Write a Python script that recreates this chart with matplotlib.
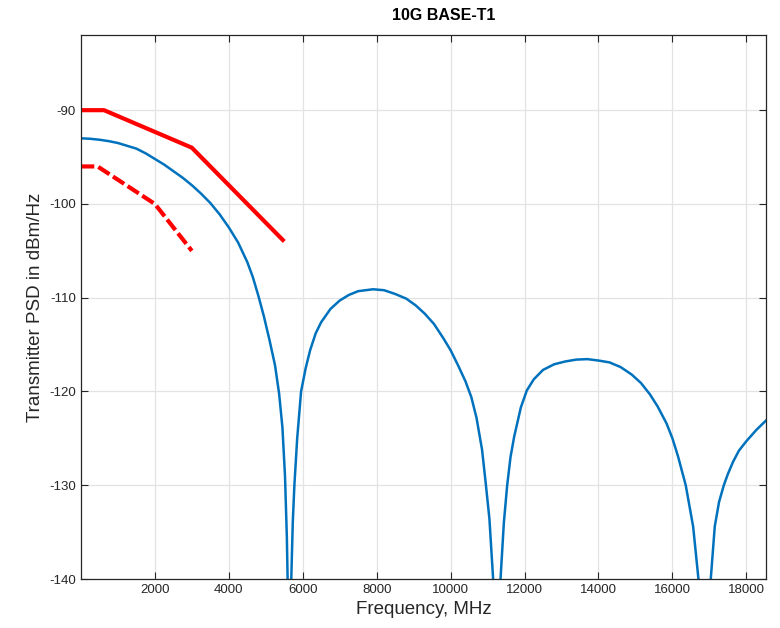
import numpy as np
import matplotlib
matplotlib.use("Agg")
import matplotlib.pyplot as plt

plt.rcParams['font.family'] = ['Liberation Sans', 'DejaVu Sans']
plt.rcParams['axes.unicode_minus'] = False

# upper PSD mask (solid red)
mask_hi_f = [1, 625, 3000, 5500]
mask_hi_db = [-90, -90, -94, -104]

# lower PSD mask (dashed red)
mask_lo_f = [1, 450, 2000, 3000]
mask_lo_db = [-96, -96, -100, -105]

# transmitter PSD (blue); nulls go below the axis
psd_f = [1, 250, 500, 750, 1000, 1250, 1500, 1750, 2000, 2250, 2500,
         2750, 3000, 3250, 3500, 3750, 4000, 4250, 4500, 4650, 4800,
         4950, 5100, 5250, 5360, 5450, 5520, 5570, 5600, 5625,
         5690, 5730, 5774, 5850, 5955, 6080, 6200, 6350, 6500, 6750,
         7000, 7250, 7500, 7900, 8200, 8500, 8800, 9050, 9300, 9550,
         9800, 10000, 10200, 10400, 10560, 10700, 10850, 10950, 11050,
         11150, 11250,
         11350, 11440, 11530, 11620, 11720, 11900, 12060, 12250, 12500,
         12800, 13100, 13400, 13700, 14000, 14300, 14600, 14900, 15150,
         15390, 15600, 15840, 16000, 16150, 16360, 16560, 16704, 16870,
         17037, 17145, 17260, 17390, 17500, 17640, 17800, 18000, 18270,
         18530]
psd_db = [-93.0, -93.05, -93.15, -93.3, -93.5, -93.8, -94.1, -94.6, -95.2,
          -95.8, -96.5, -97.2, -98.0, -98.9, -99.9, -101.1, -102.5, -104.1,
          -106.2, -107.8, -109.8, -112.0, -114.5, -117.2, -120.2, -123.8,
          -129.0, -135.5, -142.0, -160.0,
          -140.0, -134.0, -130.0, -125.0, -120.0, -117.5, -115.6, -113.8,
          -112.6, -111.2, -110.3, -109.7, -109.3, -109.1, -109.2, -109.6,
          -110.1, -110.8, -111.7, -112.8, -114.3, -115.6, -117.2, -118.9,
          -120.6, -122.8, -126.2, -129.8, -133.6, -140.0, -160.0,
          -140.0, -134.0, -130.0, -127.0, -124.8, -121.7, -119.9, -118.7,
          -117.7, -117.1, -116.8, -116.6, -116.55, -116.7, -116.9, -117.4,
          -118.2, -119.1, -120.3, -121.6, -123.4, -125.0, -126.9, -130.0,
          -134.4, -140.0, -160.0,
          -140.0, -134.4, -131.8, -130.0, -128.8, -127.5, -126.3, -125.3,
          -124.1, -123.1]

xticks = [2000, 4000, 6000, 8000, 10000, 12000, 14000, 16000, 18000]
yticks = [-140, -130, -120, -110, -100, -90]

fig = plt.figure(figsize=(7.8, 6.28), dpi=100)
ax = fig.add_axes([0.1038, 0.078, 0.8782, 0.866])

ax.plot(mask_hi_f, mask_hi_db, color='#FF0000', lw=3, solid_capstyle='butt')
ax.plot(mask_lo_f, mask_lo_db, color='#FF0000', lw=3,
        linestyle=(0, (3.2, 1.0)), dash_capstyle='butt')
ax.plot(psd_f, psd_db, color='#0072BD', lw=1.8)

ax.set_xlim(1, 18530)
ax.set_ylim(-140, -82)
ax.set_xticks(xticks)
ax.set_yticks(yticks)
ax.grid(True, color='#e3e3e3', lw=0.9)
ax.set_axisbelow(True)

ax.tick_params(direction='in', length=5, width=0.8, colors='#262626',
               labelsize=9.5, top=True, right=True)
for s in ax.spines.values():
    s.set_color('#262626')
    s.set_linewidth(0.9)

ax.set_xlabel('Frequency, MHz', fontsize=13.5, color='#262626', labelpad=4)
ax.set_ylabel('Transmitter PSD in dBm/Hz', fontsize=13.5, color='#262626', labelpad=4)
ax.set_title('10G BASE-T1', fontsize=11.5, fontweight='bold', x=0.529, pad=11)

fig.savefig('out.png', dpi=100)
